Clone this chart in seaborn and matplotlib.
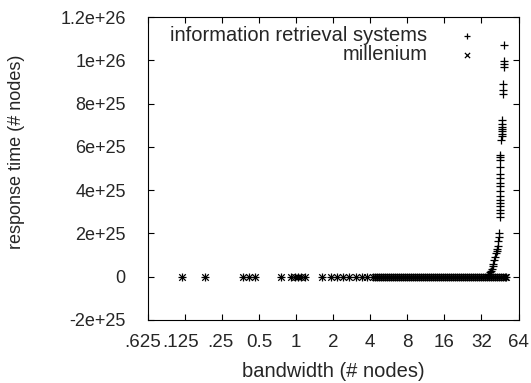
import matplotlib
matplotlib.use("Agg")
import matplotlib.pyplot as plt
import matplotlib.transforms as mtransforms
import seaborn as sns

# bandwidth values where both systems sit at ~0 response time
low_bandwidth = [
    0.117, 0.183, 0.367, 0.41, 0.459, 0.757, 0.911, 0.97, 1.025, 1.1,
    1.17, 1.62, 1.92, 2.16, 2.42, 2.7, 3.07, 3.43, 3.79, 4.17,
    4.4, 4.57, 4.74, 4.92, 5.1, 5.3, 5.5, 5.7, 5.92, 6.15,
    6.38, 6.62, 6.87, 7.13, 7.4, 7.68, 7.97, 8.27, 8.59, 8.91,
    9.25, 9.6, 9.97, 10.35, 10.74, 11.15, 11.57, 12.0, 12.46, 12.93,
    13.42, 13.93, 14.46, 15.0, 15.57, 16.17, 16.78, 17.41, 18.07, 18.76,
    19.47, 20.21, 20.98, 21.78, 22.6, 23.46, 24.35, 25.28, 26.24, 27.23,
    28.27, 29.34, 30.46, 31.61, 32.81, 34.06, 35.35, 36.7, 38.09, 39.53,
    41.04, 42.6, 44.2, 45.9, 47.6, 49.4, 50.6,
]
low_time = [
    0, 0, 0, 0, 0, 0, 0, 0, 0, 0,
    0, 0, 0, 0, 0, 0, 0, 0, 0, 0,
    0, 0, 0, 0, 0, 0, 0, 0, 0, 0,
    0, 0, 0, 0, 0, 0, 0, 0, 0, 0,
    0, 0, 0, 0, 0, 0, 0, 0, 0, 0,
    0, 0, 0, 0, 0, 0, 0, 0, 0, 0,
    0, 0, 0, 0, 0, 0, 0, 0, 0, 0,
    0, 0, 0, 0, 0, 0, 0, 0, 0, 0,
    0, 0, 0, 0, 0, 0, 0,
]

# the information retrieval systems blow up near 32-50 nodes
tail_bandwidth = [
    35.9, 36.5, 37.5, 38.2, 39.0, 39.4, 40.0, 40.6, 41.2, 41.9,
    42.5, 43.0, 43.4, 44.0, 44.2, 44.3,
    45.2, 45.2, 45.2, 45.2, 45.1, 45.1, 45.1, 45.1, 45.3, 45.3,
    45.3, 45.3, 45.4, 45.4, 45.4, 45.4, 46.0,
    46.6, 46.6, 46.6, 46.6, 46.6, 46.6, 46.6,
    47.5, 47.5, 47.5,
    48.4, 48.4, 48.4,
    49.0,
]
tail_time = [
    0.09e25, 0.12e25, 0.2e25, 0.25e25, 0.35e25, 0.48e25, 0.6e25, 0.78e25, 0.92e25, 1.09e25,
    1.2e25, 1.3e25, 1.4e25, 1.63e25, 1.83e25, 2.04e25,
    2.78e25, 2.94e25, 3.09e25, 3.25e25, 3.40e25, 3.55e25, 3.74e25, 3.94e25, 4.17e25, 4.35e25,
    4.56e25, 4.74e25, 5.09e25, 5.40e25, 5.54e25, 5.63e25, 6.32e25,
    6.48e25, 6.60e25, 6.71e25, 6.82e25, 6.94e25, 7.06e25, 7.25e25,
    8.45e25, 8.63e25, 8.90e25,
    9.70e25, 9.84e25, 9.97e25,
    1.07e26,
]

x_ticks = [0.0625, 0.125, 0.25, 0.5, 1, 2, 4, 8, 16, 32, 64]
x_tick_labels = [".625", ".125", ".25", "0.5", "1", "2", "4", "8", "16", "32", "64"]
y_ticks = [-2e25, 0, 2e25, 4e25, 6e25, 8e25, 1e26, 1.2e26]
y_tick_labels = ["-2e+25", "0", "2e+25", "4e+25", "6e+25", "8e+25", "1e+26", "1.2e+26"]

sns.set_style("ticks")
plt.rcParams["font.family"] = ["Liberation Sans", "DejaVu Sans"]
plt.rcParams["xtick.direction"] = "in"
plt.rcParams["ytick.direction"] = "in"

fig = plt.figure(figsize=(5.31, 3.83), dpi=100)
ax = fig.add_axes([0.2787, 0.1645, 0.6978, 0.7911])

irs_x = low_bandwidth + tail_bandwidth
irs_y = low_time + tail_time

sns.scatterplot(x=irs_x, y=irs_y, marker="+", color="black", s=30,
                linewidth=0.9, label="information retrieval systems", ax=ax)
sns.scatterplot(x=low_bandwidth, y=low_time, marker="x", color="black", s=22,
                linewidth=0.9, label="millenium", ax=ax)

ax.set_xscale("log", base=2)
ax.set_xlim(0.0625, 64)
ax.set_ylim(-2e25, 1.2e26)
ax.set_xticks(x_ticks)
ax.set_xticklabels(x_tick_labels)
ax.set_yticks(y_ticks)
ax.set_yticklabels(y_tick_labels)
ax.minorticks_off()

ax.tick_params(axis="both", which="major", direction="in", length=4, width=0.8,
               color="black", top=True, right=True)
ax.tick_params(axis="y", pad=16, labelsize=13)
ax.tick_params(axis="x", pad=10, labelsize=13.5)
for s in ax.spines.values():
    s.set_visible(True)
    s.set_color("black")
    s.set_linewidth(0.8)

# gnuplot puts the first few small labels a bit to the left
for lbl, dx in zip(ax.get_xticklabels()[:3], [-5, -4, -2]):
    lbl.set_transform(lbl.get_transform() + mtransforms.ScaledTranslation(dx / 100, 0, fig.dpi_scale_trans))

ax.set_xlabel("bandwidth (# nodes)", fontsize=14.5)
ax.set_ylabel("response time (# nodes)", fontsize=13)
ax.xaxis.set_label_coords(0.5, -0.14)
ax.yaxis.set_label_coords(-0.332, 0.554)

ax.legend(loc="upper right", bbox_to_anchor=(0.915, 0.97), markerfirst=False,
          frameon=False, handlelength=2, handletextpad=0.95, labelspacing=0.0,
          borderpad=0, borderaxespad=0, scatterpoints=1, fontsize=14.5,
          markerscale=0.8)

fig.savefig("out.png", dpi=100)
